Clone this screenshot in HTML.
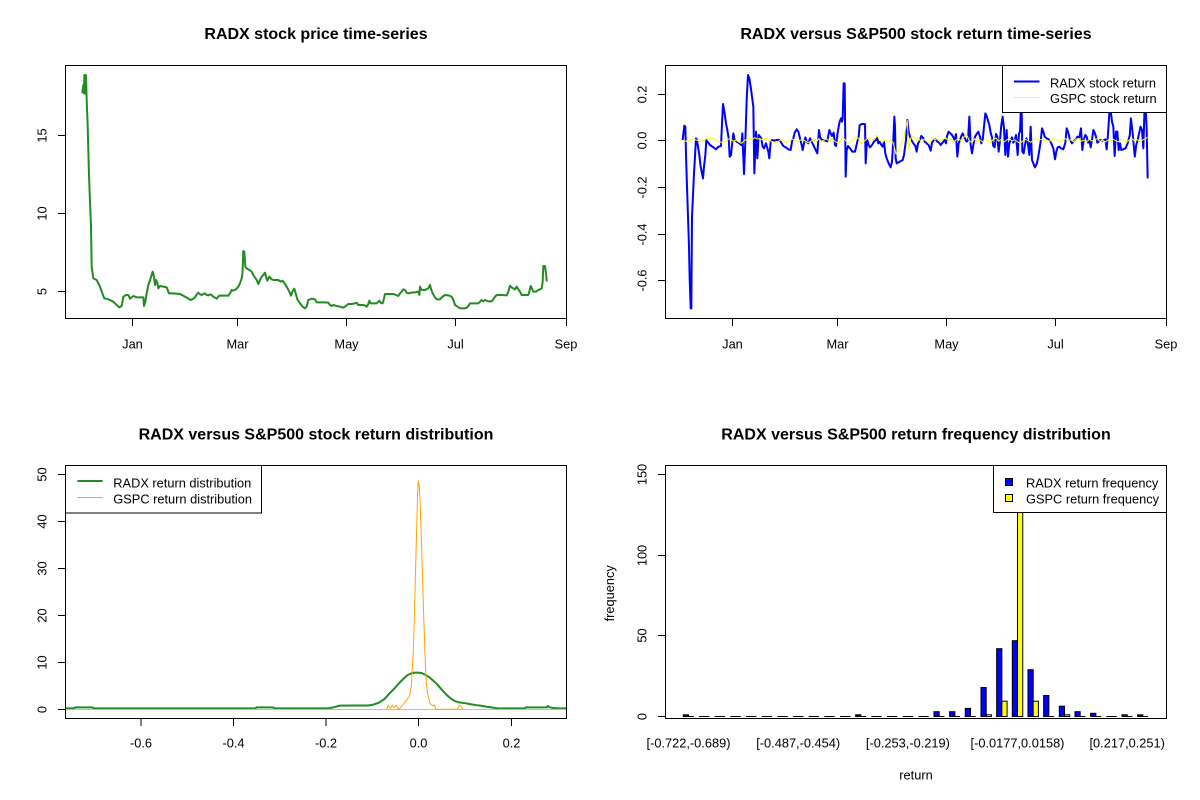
<!DOCTYPE html>
<html><head><meta charset="utf-8"><style>
html,body{margin:0;padding:0;background:#fff;}
svg{display:block;}
text{font-family:"Liberation Sans",Arial,sans-serif;fill:#000;}
.t{font-size:16px;font-weight:bold;text-anchor:middle;}
.a{font-size:12.8px;}
.m{text-anchor:middle;}
</style></head><body>
<svg width="1200" height="800" viewBox="0 0 1200 800" xmlns="http://www.w3.org/2000/svg">
<defs>
<clipPath id="cTL"><rect x="66" y="66" width="500" height="252"/></clipPath>
<clipPath id="cTR"><rect x="666" y="66" width="500" height="252"/></clipPath>
<clipPath id="cBL"><rect x="66" y="466" width="500" height="252"/></clipPath>
<clipPath id="cBR"><rect x="666" y="466" width="500" height="252"/></clipPath>
</defs>
<rect width="1200" height="800" fill="#fff"/>

<!-- Titles -->
<text class="t" x="316" y="39">RADX stock price time-series</text>
<text class="t" x="916" y="39">RADX versus S&amp;P500 stock return time-series</text>
<text class="t" x="316" y="439.5">RADX versus S&amp;P500 stock return distribution</text>
<text class="t" x="916" y="439.5">RADX versus S&amp;P500 return frequency distribution</text>

<!-- ============ TOP LEFT ============ -->
<g clip-path="url(#cTL)">
<g transform="translate(60,60) scale(0.333333)">
<polyline fill="none" stroke="#228B22" stroke-width="6" stroke-linejoin="round" points="67,100 70,75 72,100 73,45 76,100 78,45 80,120 83,195 85,270 87,345 90,425 93,500 95,620 100,655 110,660 120,680 127,700 133,715 145,718 160,725 170,735 178,742 185,738 190,710 198,705 205,705 210,716 215,712 220,708 230,712 245,712 250,712 252,738 256,725 260,700 265,675 272,655 278,635 282,650 285,675 288,660 292,668 295,685 300,678 310,680 320,682 327,700 340,700 360,702 375,710 385,716 392,720 400,716 405,712 410,703 415,698 420,703 425,705 430,702 435,700 440,705 445,706 450,703 455,705 460,710 470,716 475,710 478,707 490,707 505,707 510,700 515,690 520,692 528,688 535,680 540,670 545,655 547,645 549,600 550,573 553,575 556,620 560,625 565,628 575,635 580,645 590,660 595,672 600,660 605,650 610,645 615,638 618,650 622,662 625,655 628,650 635,658 640,660 655,660 662,665 668,662 675,672 680,680 688,695 693,707 697,695 703,686 707,700 712,718 720,730 728,740 735,745 740,740 745,720 755,716 765,718 770,727 780,727 790,727 805,728 810,735 815,738 820,735 830,738 840,740 850,743 855,740 865,732 875,732 885,730 890,728 895,735 905,735 915,736 920,740 925,732 928,722 932,730 940,730 950,730 955,725 958,722 962,728 968,730 972,715 975,702 985,702 995,702 1000,702 1008,705 1015,708 1020,700 1025,695 1030,688 1035,690 1040,698 1045,700 1055,698 1065,697 1075,695 1078,705 1080,680 1085,690 1095,690 1105,685 1110,675 1114,690 1118,700 1125,712 1130,718 1140,718 1145,712 1155,705 1165,706 1175,710 1180,720 1185,735 1190,738 1198,744 1205,745 1215,745 1220,743 1225,738 1230,730 1245,730 1255,730 1260,725 1265,720 1270,724 1275,720 1285,724 1295,724 1300,718 1305,710 1310,705 1325,705 1340,706 1345,695 1350,677 1355,682 1360,685 1365,688 1370,680 1375,688 1380,695 1385,705 1395,705 1405,705 1408,695 1412,678 1416,685 1420,695 1428,695 1435,690 1440,688 1445,685 1448,665 1450,618 1455,618 1458,640 1460,662 1463,662"/>
</g>
</g>
<rect x="65.5" y="65.5" width="501" height="253" fill="none" stroke="#000" stroke-width="1"/>
<g stroke="#000" stroke-width="1">
<line x1="132.5" y1="318.5" x2="132.5" y2="326"/>
<line x1="237.5" y1="318.5" x2="237.5" y2="326"/>
<line x1="346.5" y1="318.5" x2="346.5" y2="326"/>
<line x1="455.5" y1="318.5" x2="455.5" y2="326"/>
<line x1="566.5" y1="318.5" x2="566.5" y2="326"/>
<line x1="58" y1="291.5" x2="65.5" y2="291.5"/>
<line x1="58" y1="213.5" x2="65.5" y2="213.5"/>
<line x1="58" y1="135.5" x2="65.5" y2="135.5"/>
</g>
<g class="a m">
<text class="a m" x="132.5" y="348.3">Jan</text>
<text class="a m" x="237.5" y="348.3">Mar</text>
<text class="a m" x="346.5" y="348.3">May</text>
<text class="a m" x="455.5" y="348.3">Jul</text>
<text class="a m" x="566" y="348.3">Sep</text>
<text class="a m" transform="translate(46.7,291.5) rotate(-90)">5</text>
<text class="a m" transform="translate(46.7,213.5) rotate(-90)">10</text>
<text class="a m" transform="translate(46.7,135.5) rotate(-90)">15</text>
</g>

<!-- ============ TOP RIGHT ============ -->
<g clip-path="url(#cTR)">
<g transform="translate(620,60) scale(0.333333)">
<polyline fill="none" stroke="#0000FF" stroke-width="6" stroke-linejoin="round" points="188,240 190,222 193,197 196,200 198,285 201,380 204,470 207,560 209,655 212,745 214,745 216,470 219,405 222,340 225,290 228,235 231,240 234,260 238,285 242,320 246,340 249,355 252,320 256,285 259,240 262,245 270,255 280,262 288,268 295,260 303,258 306,190 309,132 314,160 318,190 322,210 326,235 329,290 333,285 336,255 340,220 344,240 350,245 358,250 364,255 367,220 372,342 376,245 380,120 384,45 388,55 392,80 396,110 400,140 403,340 408,215 412,295 416,225 420,230 424,235 428,260 432,265 438,250 445,275 448,295 452,245 456,240 462,242 470,240 478,240 485,250 490,258 497,262 505,268 512,270 516,245 520,235 524,218 530,208 535,215 540,235 545,255 548,270 552,250 556,232 560,245 565,250 570,235 575,245 580,255 587,270 592,280 597,210 600,230 605,240 611,240 617,242 622,244 628,210 632,220 636,228 641,218 645,255 648,258 652,225 656,200 659,185 663,175 666,185 668,175 671,70 674,70 677,350 680,270 684,258 690,265 697,275 705,275 712,245 716,230 719,195 726,192 735,192 737,310 741,238 746,255 750,262 756,255 762,245 768,240 771,230 775,250 779,245 784,255 788,260 792,245 796,280 800,295 806,310 812,322 816,305 820,240 823,170 825,200 827,295 830,310 848,300 852,285 858,240 862,180 866,215 870,230 874,240 880,250 886,258 890,275 894,250 898,245 904,228 910,235 914,245 918,248 922,252 926,255 932,272 936,248 942,240 947,238 952,245 957,248 962,255 966,250 970,245 974,240 978,250 981,228 986,215 991,220 996,225 1000,232 1004,240 1008,222 1012,290 1016,250 1020,240 1024,228 1028,220 1032,230 1036,238 1040,245 1044,240 1048,170 1052,255 1056,280 1060,255 1065,230 1070,222 1075,215 1080,230 1084,250 1088,240 1092,200 1096,160 1100,168 1104,182 1108,195 1112,218 1116,232 1120,258 1124,262 1128,222 1132,230 1136,275 1140,240 1144,195 1148,170 1152,205 1156,285 1160,210 1164,290 1168,250 1172,240 1176,232 1180,248 1184,240 1188,225 1190,250 1193,285 1197,220 1200,215 1203,135 1205,150 1207,275 1211,280 1215,255 1219,235 1223,245 1228,285 1232,200 1236,300 1240,310 1245,322 1250,312 1254,295 1258,270 1262,245 1266,205 1270,215 1274,230 1280,235 1286,238 1293,248 1297,258 1300,265 1305,298 1309,275 1313,262 1318,260 1323,265 1330,268 1336,248 1340,205 1344,215 1350,240 1356,250 1362,242 1368,238 1372,230 1378,232 1383,205 1387,270 1391,240 1396,225 1400,230 1404,248 1408,240 1412,262 1416,240 1420,210 1424,218 1428,230 1432,248 1436,245 1440,240 1448,242 1456,238 1460,268 1464,222 1468,160 1472,150 1476,185 1480,200 1484,288 1488,215 1492,215 1496,270 1500,250 1503.6,270 1510,268 1516.5,265 1522.8,250 1529.4,225 1532.7,175 1538,220 1544.4,290 1548.6,255 1553,240 1557.3,220 1561.6,200 1566,210 1570,265 1573.5,150 1576.8,140 1579.8,200 1583,355"/>
<polyline fill="none" stroke="#FFFF00" stroke-width="3" stroke-linejoin="round" points="188,241 196,243 204,246 212,240 220,236 228,240 236,242 244,247 252,241 260,236 268,238 276,234 284,238 292,241 300,245 308,249 316,244 324,238 332,236 340,244 348,240 356,246 364,250 372,243 380,238 388,235 396,240 404,233 412,237 420,236 428,240 436,234 444,239 452,243 460,246 468,248 476,244 484,238 492,244 500,248 508,241 516,237 524,240 532,245 540,241 548,238 556,243 564,248 572,244 580,240 588,247 596,236 604,244 612,240 620,237 628,243 636,235 644,244 652,248 660,243 668,232 676,240 684,252 692,244 700,238 708,230 716,236 724,250 732,244 740,238 748,232 756,240 764,236 772,228 780,242 788,246 796,240 804,246 812,238 820,250 828,282 834,272 840,258 846,248 852,230 858,200 862,182 866,268 872,235 880,228 888,240 896,234 904,248 912,238 920,244 928,252 936,230 944,240 952,236 960,245 968,238 976,232 984,242 992,236 1000,246 1008,240 1016,236 1024,244 1032,230 1040,224 1048,242 1056,248 1064,236 1072,244 1080,240 1088,246 1096,236 1104,242 1112,248 1120,238 1128,234 1136,244 1144,238 1152,246 1160,240 1168,236 1176,243 1184,239 1192,245 1200,250 1208,243 1216,238 1224,242 1232,247 1240,240 1248,236 1256,241 1264,238 1272,242 1280,240 1288,244 1296,238 1304,236 1312,240 1320,246 1328,241 1336,236 1344,243 1352,239 1360,245 1368,238 1376,236 1384,244 1392,240 1400,246 1408,238 1416,243 1424,239 1432,236 1440,244 1448,240 1456,246 1464,240 1472,244 1480,238 1488,243 1496,245 1504,238 1512,242 1520,246 1528,240 1536,236 1544,243 1552,239 1560,245 1568,240 1576,236 1582,232"/>
</g>
</g>
<rect x="665.5" y="65.5" width="501" height="253" fill="none" stroke="#000" stroke-width="1"/>
<g stroke="#000" stroke-width="1">
<line x1="732.5" y1="318.5" x2="732.5" y2="326"/>
<line x1="837.5" y1="318.5" x2="837.5" y2="326"/>
<line x1="946.5" y1="318.5" x2="946.5" y2="326"/>
<line x1="1055.5" y1="318.5" x2="1055.5" y2="326"/>
<line x1="1166.5" y1="318.5" x2="1166.5" y2="326"/>
<line x1="658" y1="94.5" x2="665.5" y2="94.5"/>
<line x1="658" y1="140.5" x2="665.5" y2="140.5"/>
<line x1="658" y1="187.5" x2="665.5" y2="187.5"/>
<line x1="658" y1="234.5" x2="665.5" y2="234.5"/>
<line x1="658" y1="280.5" x2="665.5" y2="280.5"/>
</g>
<text class="a m" x="732.5" y="348.3">Jan</text>
<text class="a m" x="837.5" y="348.3">Mar</text>
<text class="a m" x="946.5" y="348.3">May</text>
<text class="a m" x="1055.5" y="348.3">Jul</text>
<text class="a m" x="1166" y="348.3">Sep</text>
<text class="a m" transform="translate(646.7,94.5) rotate(-90)">0.2</text>
<text class="a m" transform="translate(646.7,140.5) rotate(-90)">0.0</text>
<text class="a m" transform="translate(646.7,187.5) rotate(-90)">-0.2</text>
<text class="a m" transform="translate(646.7,234.5) rotate(-90)">-0.4</text>
<text class="a m" transform="translate(646.7,280.5) rotate(-90)">-0.6</text>
<!-- legend TR -->
<rect x="1002.5" y="65.5" width="164" height="47" fill="#fff" stroke="#000" stroke-width="1"/>
<line x1="1014" y1="81.5" x2="1039.5" y2="81.5" stroke="#0000FF" stroke-width="2"/>
<line x1="1014" y1="97.5" x2="1039.5" y2="97.5" stroke="#FFFF00" stroke-width="1"/>
<text class="a" x="1050" y="87.5">RADX stock return</text>
<text class="a" x="1050" y="103">GSPC stock return</text>

<!-- ============ BOTTOM LEFT ============ -->
<g clip-path="url(#cBL)">
<g transform="translate(418.3,709.3) scale(463,-4.7)">
<polyline fill="none" stroke="#228B22" stroke-width="2" vector-effect="non-scaling-stroke" stroke-linejoin="round" points="-0.765,0.2 -0.745,0.2 -0.740,0.42 -0.705,0.42 -0.700,0.2 -0.352,0.2 -0.349,0.42 -0.314,0.42 -0.311,0.2 -0.193,0.2 -0.180,0.5 -0.170,0.77 -0.140,0.8 -0.108,0.8 -0.097,1.0 -0.085,1.4 -0.073,2.2 -0.062,3.4 -0.052,4.4 -0.042,5.5 -0.032,6.5 -0.023,7.3 -0.015,7.65 -0.007,7.8 0.0,7.8 0.008,7.7 0.016,7.3 0.024,6.8 0.031,6.2 0.039,5.5 0.047,4.6 0.055,3.7 0.062,3.0 0.070,2.3 0.078,1.8 0.086,1.5 0.101,1.3 0.112,1.1 0.124,0.9 0.136,0.75 0.148,0.55 0.160,0.38 0.171,0.2 0.230,0.2 0.233,0.42 0.278,0.42 0.280,0.7 0.283,0.42 0.29,0.3 0.30,0.2 0.325,0.2"/>
</g>
<line x1="66" y1="709.5" x2="566" y2="709.5" stroke="#BEBEBE" stroke-width="1"/>
<g transform="translate(418.3,709.3) scale(463,-4.7)">
<polyline fill="none" stroke="#FFA500" stroke-width="1" vector-effect="non-scaling-stroke" stroke-linejoin="round" points="-0.068,0 -0.065,0.9 -0.060,0.2 -0.056,0.9 -0.052,0.3 -0.048,0.9 -0.044,0.1 -0.040,0.2 -0.035,0.7 -0.031,1.3 -0.025,2.0 -0.019,2.8 -0.015,5 -0.011,11.9 -0.009,18 -0.007,25.4 -0.005,33 -0.003,40.3 -0.0015,46 0.0,48.6 0.002,47.5 0.004,43.8 0.006,38 0.008,31.8 0.010,25 0.012,19 0.014,13 0.016,7.7 0.018,5 0.020,3.4 0.025,1.3 0.032,0.7 0.035,0.9 0.038,0 0.085,0 0.088,0.9 0.092,0.7 0.097,0"/>
</g>
</g>
<rect x="65.5" y="465.5" width="501" height="253" fill="none" stroke="#000" stroke-width="1"/>
<g stroke="#000" stroke-width="1">
<line x1="141" y1="718.5" x2="141" y2="726"/>
<line x1="233.5" y1="718.5" x2="233.5" y2="726"/>
<line x1="326" y1="718.5" x2="326" y2="726"/>
<line x1="418.5" y1="718.5" x2="418.5" y2="726"/>
<line x1="511.5" y1="718.5" x2="511.5" y2="726"/>
<line x1="58" y1="709.5" x2="65.5" y2="709.5"/>
<line x1="58" y1="662.5" x2="65.5" y2="662.5"/>
<line x1="58" y1="615.5" x2="65.5" y2="615.5"/>
<line x1="58" y1="568.5" x2="65.5" y2="568.5"/>
<line x1="58" y1="521.5" x2="65.5" y2="521.5"/>
<line x1="58" y1="474.5" x2="65.5" y2="474.5"/>
</g>
<text class="a m" x="141" y="747.3">-0.6</text>
<text class="a m" x="233.5" y="747.3">-0.4</text>
<text class="a m" x="326" y="747.3">-0.2</text>
<text class="a m" x="418.5" y="747.3">0.0</text>
<text class="a m" x="511.5" y="747.3">0.2</text>
<text class="a m" transform="translate(46.7,709.5) rotate(-90)">0</text>
<text class="a m" transform="translate(46.7,662.5) rotate(-90)">10</text>
<text class="a m" transform="translate(46.7,615.5) rotate(-90)">20</text>
<text class="a m" transform="translate(46.7,568.5) rotate(-90)">30</text>
<text class="a m" transform="translate(46.7,521.5) rotate(-90)">40</text>
<text class="a m" transform="translate(46.7,474.5) rotate(-90)">50</text>
<!-- legend BL -->
<rect x="65.5" y="465.5" width="196" height="47.5" fill="#fff" stroke="#000" stroke-width="1"/>
<line x1="77.4" y1="481" x2="102.6" y2="481" stroke="#228B22" stroke-width="2"/>
<line x1="77.4" y1="497.5" x2="102.6" y2="497.5" stroke="#FFA500" stroke-width="1"/>
<text class="a" x="113.3" y="487.7">RADX return distribution</text>
<text class="a" x="113.3" y="503.5">GSPC return distribution</text>

<!-- ============ BOTTOM RIGHT ============ -->
<g clip-path="url(#cBR)">
<!-- zero dashes for every group -->
<g stroke="#000" stroke-width="1">
<line x1="683.3" y1="716.5" x2="693.74" y2="716.5"/>
<line x1="698.97" y1="716.5" x2="709.41" y2="716.5"/>
<line x1="714.63" y1="716.5" x2="725.07" y2="716.5"/>
<line x1="730.3" y1="716.5" x2="740.74" y2="716.5"/>
<line x1="745.97" y1="716.5" x2="756.41" y2="716.5"/>
<line x1="761.64" y1="716.5" x2="772.08" y2="716.5"/>
<line x1="777.3" y1="716.5" x2="787.74" y2="716.5"/>
<line x1="792.97" y1="716.5" x2="803.41" y2="716.5"/>
<line x1="808.64" y1="716.5" x2="819.08" y2="716.5"/>
<line x1="824.3" y1="716.5" x2="834.74" y2="716.5"/>
<line x1="839.97" y1="716.5" x2="850.41" y2="716.5"/>
<line x1="855.64" y1="716.5" x2="866.08" y2="716.5"/>
<line x1="871.3" y1="716.5" x2="881.74" y2="716.5"/>
<line x1="886.97" y1="716.5" x2="897.41" y2="716.5"/>
<line x1="902.64" y1="716.5" x2="913.08" y2="716.5"/>
<line x1="918.3" y1="716.5" x2="928.74" y2="716.5"/>
<line x1="933.97" y1="716.5" x2="944.41" y2="716.5"/>
<line x1="949.64" y1="716.5" x2="960.08" y2="716.5"/>
<line x1="965.31" y1="716.5" x2="975.75" y2="716.5"/>
<line x1="980.97" y1="716.5" x2="991.41" y2="716.5"/>
<line x1="996.64" y1="716.5" x2="1007.08" y2="716.5"/>
<line x1="1012.31" y1="716.5" x2="1022.75" y2="716.5"/>
<line x1="1027.97" y1="716.5" x2="1038.41" y2="716.5"/>
<line x1="1043.64" y1="716.5" x2="1054.08" y2="716.5"/>
<line x1="1059.31" y1="716.5" x2="1069.75" y2="716.5"/>
<line x1="1074.97" y1="716.5" x2="1085.41" y2="716.5"/>
<line x1="1090.64" y1="716.5" x2="1101.08" y2="716.5"/>
<line x1="1106.31" y1="716.5" x2="1116.75" y2="716.5"/>
<line x1="1121.97" y1="716.5" x2="1132.41" y2="716.5"/>
<line x1="1137.64" y1="716.5" x2="1148.08" y2="716.5"/>
</g>
<g stroke="#000" stroke-width="1">
<!-- blue bars -->
<rect x="683.3" y="714.8" width="5.22" height="1.7" fill="#0000FF"/>
<rect x="855.64" y="714.8" width="5.22" height="1.7" fill="#0000FF"/>
<rect x="933.97" y="711.7" width="5.22" height="4.8" fill="#0000FF"/>
<rect x="949.64" y="711.7" width="5.22" height="4.8" fill="#0000FF"/>
<rect x="965.31" y="708.4" width="5.22" height="8.1" fill="#0000FF"/>
<rect x="980.97" y="687.5" width="5.22" height="29" fill="#0000FF"/>
<rect x="996.64" y="648.7" width="5.22" height="67.8" fill="#0000FF"/>
<rect x="1012.31" y="640.7" width="5.22" height="75.8" fill="#0000FF"/>
<rect x="1027.97" y="669.7" width="5.22" height="46.8" fill="#0000FF"/>
<rect x="1043.64" y="695.5" width="5.22" height="21" fill="#0000FF"/>
<rect x="1059.31" y="706.2" width="5.22" height="10.3" fill="#0000FF"/>
<rect x="1074.97" y="711.7" width="5.22" height="4.8" fill="#0000FF"/>
<rect x="1090.64" y="713.3" width="5.22" height="3.2" fill="#0000FF"/>
<rect x="1121.97" y="714.8" width="5.22" height="1.7" fill="#0000FF"/>
<rect x="1137.64" y="714.8" width="5.22" height="1.7" fill="#0000FF"/>
<!-- yellow bars -->
<rect x="986.19" y="714.8" width="5.22" height="1.7" fill="#FFFF00"/>
<rect x="1001.86" y="701.2" width="5.22" height="15.3" fill="#FFFF00"/>
<rect x="1017.53" y="462" width="5.22" height="254.5" fill="#FFFF00"/>
<rect x="1033.19" y="701.2" width="5.22" height="15.3" fill="#FFFF00"/>
<rect x="1064.53" y="714.8" width="5.22" height="1.7" fill="#FFFF00"/>
</g>
</g>
<rect x="665.5" y="465.5" width="501" height="253" fill="none" stroke="#000" stroke-width="1"/>
<g stroke="#000" stroke-width="1">
<line x1="658" y1="716.5" x2="665.5" y2="716.5"/>
<line x1="658" y1="635.5" x2="665.5" y2="635.5"/>
<line x1="658" y1="555.5" x2="665.5" y2="555.5"/>
<line x1="658" y1="474.5" x2="665.5" y2="474.5"/>
</g>
<text class="a m" transform="translate(646.7,716.5) rotate(-90)">0</text>
<text class="a m" transform="translate(646.7,635.5) rotate(-90)">50</text>
<text class="a m" transform="translate(646.7,555.5) rotate(-90)">100</text>
<text class="a m" transform="translate(646.7,474.5) rotate(-90)">150</text>
<text class="a m" x="688.5" y="747.3">[-0.722,-0.689)</text>
<text class="a m" x="798.2" y="747.3">[-0.487,-0.454)</text>
<text class="a m" x="907.9" y="747.3">[-0.253,-0.219)</text>
<text class="a m" x="1017.5" y="747.3">[-0.0177,0.0158)</text>
<text class="a m" x="1127.2" y="747.3">[0.217,0.251)</text>
<text class="a m" x="916" y="779.5">return</text>
<text class="a m" transform="translate(614,593.3) rotate(-90)">frequency</text>
<!-- legend BR -->
<rect x="993.5" y="465.5" width="173" height="47" fill="#fff" stroke="#000" stroke-width="1"/>
<rect x="1005.5" y="478.5" width="7" height="7" fill="#0000FF" stroke="#000" stroke-width="1"/>
<rect x="1005.5" y="494.5" width="7" height="7" fill="#FFFF00" stroke="#000" stroke-width="1"/>
<text class="a" x="1026" y="487.7">RADX return frequency</text>
<text class="a" x="1026" y="503.5">GSPC return frequency</text>
</svg>
</body></html>
